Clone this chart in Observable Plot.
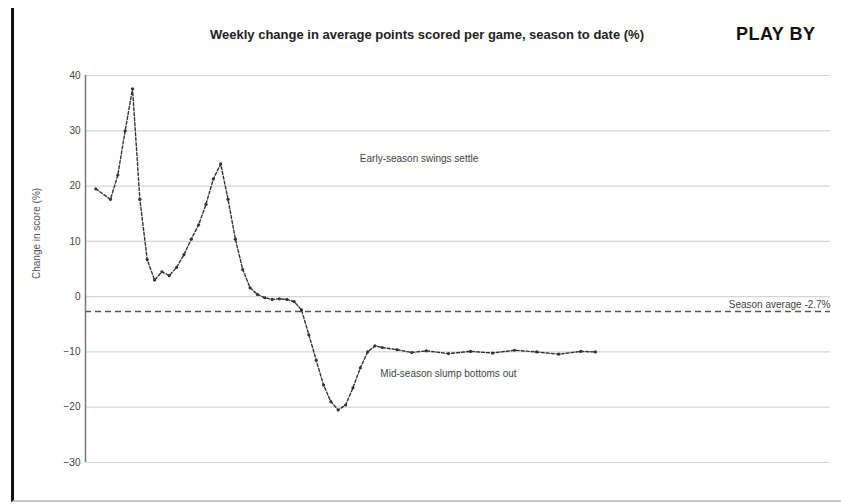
<!DOCTYPE html>
<html>
<head>
<meta charset="utf-8">
<script src="https://cdn.jsdelivr.net/npm/d3@7"></script>
<script src="https://cdn.jsdelivr.net/npm/@observablehq/plot@0.6"></script>
<style>
  html, body { margin: 0; padding: 0; background: #fff; }
  body { width: 841px; height: 504px; overflow: hidden; font-family: "Liberation Sans", Arial, sans-serif; }
  #frame { position: absolute; left: 11px; top: 8px; width: 830px; height: 492px;
           border-left: 3px solid #111; border-bottom: 2px solid #c8c8c8; overflow: hidden; }
  #head { position: absolute; left: 0; top: 0; width: 830px; height: 42px; }
  #title { position: absolute; left: 196px; top: 19px; font-size: 13px; font-weight: 600; color: #222; white-space: nowrap; }
  #tag { position: absolute; left: 722px; top: 16px; font-size: 18px; font-weight: 800; color: #111; letter-spacing: 0.5px; white-space: nowrap; }
  #chart { position: absolute; left: 0; top: 42px; }
</style>
</head>
<body>
<div id="frame">
  <div id="head">
    <div id="title">Weekly change in average points scored per game, season to date (%)</div>
    <div id="tag">PLAY BY</div>
  </div>
  <div id="chart"></div>
</div>
<script>
// Week-by-week change in average points scored (%)
const weeks = [0, 2, 3, 4, 5, 6, 7, 8, 9, 10, 11, 12, 13, 14, 15, 16, 17, 18, 19, 20,
  21, 22, 23, 24, 25, 26, 27, 28, 29, 30, 31, 32, 33, 34, 35, 36, 37, 38, 39, 41,
  43, 45, 48, 51, 54, 57, 60, 63, 66, 68];
const change = [19.5, 17.6, 22, 30, 37.6, 17.6, 6.7, 3, 4.5, 3.8, 5.3, 7.6, 10.4, 13, 16.7, 21.3, 24, 17.6, 10.4, 4.9,
  1.6, 0.4, -0.2, -0.5, -0.4, -0.5, -0.9, -2.4, -6.9, -11.5, -16, -19, -20.5, -19.6, -16.5, -12.9, -10, -8.9, -9.2, -9.6,
  -10.1, -9.8, -10.3, -9.9, -10.2, -9.7, -10, -10.4, -9.9, -10];

const yTicks = [-30, -20, -10, 0, 10, 20, 30, 40];
const seasonAverage = -2.7;

const notes = [
  {week: 44, value: 25, text: "Early-season swings settle"},
  {week: 48, value: -14, text: "Mid-season slump bottoms out"}
];

const series = weeks.map((w, i) => ({week: w, value: change[i]}));

const chart = Plot.plot({
  width: 827,
  height: 450,
  marginLeft: 71,
  marginRight: 11,
  marginTop: 25,
  marginBottom: 38,
  style: {fontFamily: "Liberation Sans, Arial, sans-serif", fontSize: "10px", color: "#444"},
  x: {domain: [-1.4, 100], axis: null},
  y: {domain: [-30, 40], ticks: yTicks, tickSize: 0, tickPadding: 5, label: null},
  marks: [
    Plot.ruleY(yTicks, {stroke: "#d4d4d4", strokeWidth: 1.2}),
    Plot.ruleY([seasonAverage], {stroke: "#555", strokeWidth: 1.4, strokeDasharray: "6,4"}),
    Plot.text([seasonAverage], {x: 100, y: d => d, text: d => `Season average ${d}%`, textAnchor: "end", dy: -7, fill: "#444", fontSize: 10}),
    Plot.ruleX([-1.4], {stroke: "#777", strokeWidth: 1.5}),
    Plot.line(series, {x: "week", y: "value", stroke: "#333", strokeWidth: 1.4, strokeDasharray: "3,2"}),
    Plot.dot(series, {x: "week", y: "value", r: 1.6, fill: "#333"}),
    Plot.text(notes, {x: "week", y: "value", text: "text", fill: "#444", fontSize: 10}),
    Plot.axisY({ticks: yTicks, tickSize: 0, tickPadding: 5, label: null}),
    Plot.text(["Change in score (%)"], {frameAnchor: "left", dx: -49, dy: 10, rotate: -90, fill: "#555", fontSize: 10})
  ]
});
document.getElementById("chart").appendChild(chart);
</script>
</body>
</html>
